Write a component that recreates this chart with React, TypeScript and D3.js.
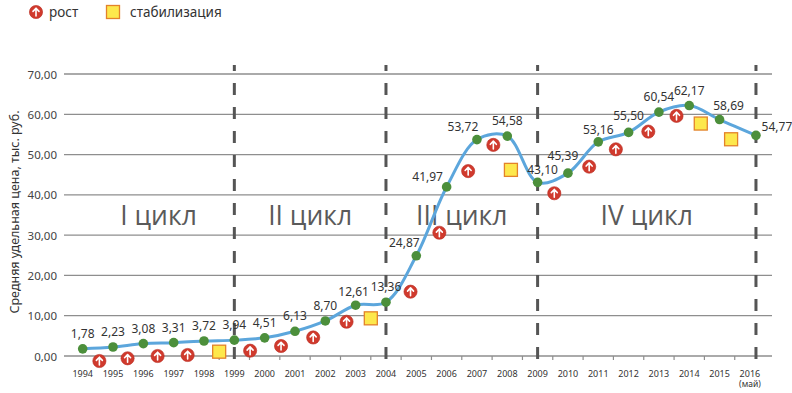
import React from "react";
import * as d3 from "d3";

const years = [1994, 1995, 1996, 1997, 1998, 1999, 2000, 2001, 2002, 2003, 2004, 2005, 2006, 2007, 2008, 2009, 2010, 2011, 2012, 2013, 2014, 2015, 2016];
const pointX = [1994, 1995, 1996, 1997, 1998, 1999, 2000, 2001, 2002, 2003, 2004, 2005, 2006, 2007, 2008, 2009, 2010, 2011, 2012, 2013, 2014, 2015, 2016.2];
const prices = [1.78, 2.23, 3.08, 3.31, 3.72, 3.94, 4.51, 6.13, 8.7, 12.61, 13.36, 24.87, 41.97, 53.72, 54.58, 43.1, 45.39, 53.16, 55.5, 60.54, 62.17, 58.69, 54.77];

const growthX = [1994.55, 1995.48, 1996.47, 1997.46, 1999.52, 2000.54, 2001.6, 2002.7, 2004.81, 2005.76, 2006.71, 2007.54, 2009.55, 2010.7, 2011.58, 2012.65, 2013.58];
const growthY = [-1.24, -0.57, 0, 0.25, 1.32, 2.48, 4.6, 8.5, 15.96, 30.6, 45.9, 52.4, 40.4, 47.0, 51.3, 55.7, 59.6];
const stabX = [1998.5, 2003.5, 2008.12, 2014.38, 2015.38];
const stabY = [1.07, 9.35, 46.2, 57.7, 53.8];

const yTicks = [0, 10, 20, 30, 40, 50, 60, 70];
const cycleBounds = [1994, 1999, 2004, 2009, 2016.2];
const dividers = [1999, 2004, 2009, 2016.2];
const cycleNames = ["I цикл", "II цикл", "III цикл", "IV цикл"];
const yTitle = "Средняя удельная цена, тыс. руб.";

// label offsets (layout only)
const labelOffsets: Record<number, [number, number]> = {
  2003: [-2, -14],
  2005: [-12, -13],
  2006: [-19, -10],
  2007: [-14, -13],
  2009: [5, -13],
  2010: [-5, -18],
  2011: [0, -12.5],
  2012: [0, -17],
  2015: [9, -14],
  2016: [21, -9],
};

const FONT = "'Noto Sans', 'Open Sans', sans-serif";
const fmt = (v: number) => v.toFixed(2).replace(".", ",");

function GrowthIcon({ cx, cy }: { cx: number; cy: number }) {
  return (
    <g transform={`translate(${cx},${cy})`}>
      <circle r={6.6} fill="#d03a2d" stroke="#b82a20" strokeWidth={0.6} />
      <path d="M0,4 V-3.6 M-3,-0.6 L0,-3.8 L3,-0.6" stroke="#fff" strokeWidth={1.6} fill="none" strokeLinecap="round" strokeLinejoin="round" />
    </g>
  );
}

function StabIcon({ cx, cy }: { cx: number; cy: number }) {
  return <rect x={cx - 6.5} y={cy - 6.5} width={13} height={13} fill="#fde84c" stroke="#e3822a" strokeWidth={1.3} />;
}

export default function App() {
  const x = d3.scaleLinear().domain([1994, 2016]).range([82.7, 749.9]);
  const y = d3.scaleLinear().domain([0, 70]).range([356, 74]);
  const pts = pointX.map((px, i) => [x(px), y(prices[i])] as [number, number]);
  const line = d3.line().curve(d3.curveCatmullRom.alpha(0.5))(pts) || "";
  const midTicks = d3.range(1994.5, 2016, 1);

  return (
    <svg width={792} height={393} style={{ position: "absolute", left: 0, top: 0, background: "#fff" }} fontFamily={FONT}>
      {/* legend */}
      <GrowthIcon cx={36} cy={12} />
      <text x={49} y={12} dominantBaseline="central" fontSize={13.5} fill="#333">рост</text>
      <StabIcon cx={113} cy={12} />
      <text x={130} y={12} dominantBaseline="central" fontSize={13.5} fill="#333">стабилизация</text>

      {/* grid */}
      {yTicks.map((t) => (
        <g key={t}>
          <line x1={64} x2={772} y1={y(t)} y2={y(t)} stroke="#8e8e8e" strokeWidth={1.3} />
          <text x={57} y={y(t)} textAnchor="end" dominantBaseline="central" fontSize={11.5} fill="#444">{fmt(t)}</text>
        </g>
      ))}

      {/* x ticks */}
      {midTicks.map((t) => (
        <line key={t} x1={x(t)} x2={x(t)} y1={y(0)} y2={y(0) + 4} stroke="#8e8e8e" strokeWidth={1.2} />
      ))}
      {years.map((yr) => (
        <text key={yr} x={x(yr)} y={373} textAnchor="middle" dominantBaseline="central" fontSize={9} fill="#333">{yr}</text>
      ))}
      <text x={x(2016)} y={383.5} textAnchor="middle" dominantBaseline="central" fontSize={8.5} fill="#333">(май)</text>

      {/* dividers */}
      {dividers.map((d) => (
        <line key={d} x1={x(d)} x2={x(d)} y1={65} y2={360} stroke="#555" strokeWidth={3} strokeDasharray="12 12" strokeDashoffset={6} />
      ))}

      {/* cycle labels */}
      {cycleNames.map((n, i) => (
        <text key={n} x={(x(cycleBounds[i]) + x(cycleBounds[i + 1])) / 2} y={215} textAnchor="middle" dominantBaseline="central" fontSize={26.5} fill="#5a5a5a" fontFamily="'Open Sans', 'Noto Sans', sans-serif">{n}</text>
      ))}

      {/* y title */}
      <text transform="translate(14,212) rotate(-90)" textAnchor="middle" dominantBaseline="central" fontSize={12.5} fill="#333">{yTitle}</text>

      {/* markers */}
      {growthX.map((gx, i) => (
        <GrowthIcon key={"g" + i} cx={x(gx)} cy={y(growthY[i])} />
      ))}
      {stabX.map((sx, i) => (
        <StabIcon key={"s" + i} cx={x(sx)} cy={y(stabY[i])} />
      ))}

      {/* line */}
      <path d={line} fill="none" stroke="#5ca6dc" strokeWidth={3} />
      {pts.map(([px, py], i) => (
        <circle key={i} cx={px} cy={py} r={4.8} fill="#4c8f3b" />
      ))}
      {pts.map(([px, py], i) => {
        const off = labelOffsets[years[i]] || [0, -15.5];
        return (
          <text key={"l" + i} x={px + off[0]} y={py + off[1]} textAnchor="middle" dominantBaseline="central" fontSize={12} fill="#333">{fmt(prices[i])}</text>
        );
      })}
    </svg>
  );
}
